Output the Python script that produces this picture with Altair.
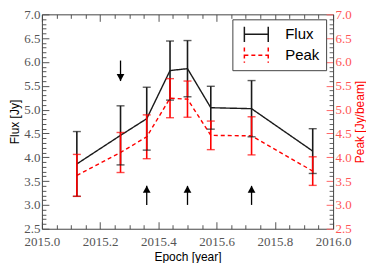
import altair as alt
import pandas as pd

# ---- data ----
epochs = [2015.12, 2015.27, 2015.36, 2015.44, 2015.50, 2015.58, 2015.72, 2015.93]
flux = [3.86, 4.46, 4.81, 5.82, 5.86, 5.04, 5.02, 4.13]
flux_err = [0.68, 0.62, 0.66, 0.62, 0.59, 0.45, 0.59, 0.47]
peak = [3.62, 4.10, 4.43, 5.24, 5.22, 4.46, 4.45, 3.71]
peak_err = [0.44, 0.42, 0.46, 0.41, 0.38, 0.30, 0.40, 0.30]
series_names = ["Flux", "Peak"]

up_arrow_epochs = [2015.36, 2015.50, 2015.72]
up_arrow_from = [3.0, 3.0, 3.0]
up_arrow_to = [3.4, 3.4, 3.4]
down_arrow_epochs = [2015.27]
down_arrow_from = [6.03]
down_arrow_to = [5.60]

x_domain = [2015.0, 2016.0]
y_domain = [2.5, 7.0]
x_ticks = [round(2015.0 + 0.05 * i, 2) for i in range(21)]
y_ticks = [round(2.5 + 0.1 * i, 1) for i in range(46)]

# ---- tables ----
rows = []
for s, vals, errs in [("Flux", flux, flux_err), ("Peak", peak, peak_err)]:
    for e, v, er in zip(epochs, vals, errs):
        rows.append({"epoch": e, "value": v, "lo": v - er, "hi": v + er, "series": s})
df = pd.DataFrame(rows)
up_df = pd.DataFrame({"epoch": up_arrow_epochs, "y0": up_arrow_from, "y1": up_arrow_to})
down_df = pd.DataFrame({"epoch": down_arrow_epochs, "y0": down_arrow_from, "y1": down_arrow_to})
dummy_df = pd.DataFrame({"epoch": [2015.5], "value": [5.0]})

xs = alt.Scale(domain=x_domain, nice=False, zero=False)
ys = alt.Scale(domain=y_domain, nice=False, zero=False)
color_scale = alt.Scale(domain=series_names, range=["#1a1a1a", "#ff0000"])
dash_scale = alt.Scale(domain=series_names, range=[[1, 0], [4, 3]])

LABEL_FONT = "Liberation Serif"
TITLE_FONT = "Liberation Sans"
y_major = "abs(datum.value*2 - round(datum.value*2)) < 0.001"
x_major = "abs(datum.value*5 - round(datum.value*5)) < 0.001"

common = dict(grid=False, labelOverlap=False, labelFlush=False, labelBound=False,
              domainColor="#444444", domainWidth=1, tickWidth=1,
              labelFont=LABEL_FONT, labelFontSize=13, labelColor="#555555",
              titleFont=TITLE_FONT, titleFontSize=12, titleFontWeight="normal")

x_bottom = alt.Axis(values=x_ticks, title="Epoch [year]",
                    labelExpr=f"{x_major} ? format(datum.value, '.1f') : ''",
                    tickSize={"expr": f"{x_major} ? -7 : -4"}, tickColor="#555555",
                    labelPadding=14, titlePadding=0, titleColor="black", **common)
x_top = alt.Axis(values=x_ticks, orient="top", title=None, labels=False,
                 tickSize={"expr": f"{x_major} ? -7 : -4"}, tickColor="#555555", **common)
y_left = alt.Axis(values=y_ticks, title="Flux [Jy]",
                  labelExpr=f"{y_major} ? format(datum.value, '.1f') : ''",
                  tickSize={"expr": f"{y_major} ? -7 : -4"}, tickColor="#555555",
                  labelPadding=9, titlePadding=2, titleColor="black", **common)
right_common = dict(common)
right_common["labelColor"] = "#ff5555"
y_right = alt.Axis(values=y_ticks, orient="right", title="Peak [Jy/beam]",
                   labelExpr=f"{y_major} ? format(datum.value, '.1f') : ''",
                   tickSize={"expr": f"{y_major} ? -7 : -4"},
                   tickColor={"condition": {"test": y_major, "value": "#ff6666"}, "value": "#666666"},
                   labelPadding=9, titlePadding=3, titleColor="#ff0000", titleAngle=270,
                   titleBaseline="top", **right_common)

legend = alt.Legend(title=None, orient="none", legendX=191, legendY=5,
                    symbolType="M-1.33,-0.85V0.85M-1.33,0H1.33M1.33,-0.85V0.85", symbolSize=324,
                    symbolOffset=8, clipHeight=18,
                    symbolStrokeWidth=1.5, labelFont=TITLE_FONT, labelFontSize=15,
                    labelColor="black", strokeColor="#444444", fillColor="white",
                    padding=6, rowPadding=3, labelOffset=19)

base = alt.Chart(df)
X = alt.X("epoch:Q", scale=xs, axis=x_bottom)


def Y(field):
    return alt.Y(field, scale=ys, axis=y_left)


lines = base.mark_line(strokeWidth=1.4).encode(
    x=X,
    y=Y("value:Q"),
    color=alt.Color("series:N", scale=color_scale, legend=legend),
    strokeDash=alt.StrokeDash("series:N", scale=dash_scale, legend=legend),
)
bars = base.mark_rule(strokeWidth=1.6).encode(
    x=X, y=Y("lo:Q"), y2="hi:Q",
    color=alt.Color("series:N", scale=color_scale, legend=None),
)
caps_lo = base.mark_tick(orient="horizontal", size=8, thickness=1.4).encode(
    x=X, y=Y("lo:Q"), color=alt.Color("series:N", scale=color_scale, legend=None))
caps_hi = base.mark_tick(orient="horizontal", size=8, thickness=1.4).encode(
    x=X, y=Y("hi:Q"), color=alt.Color("series:N", scale=color_scale, legend=None))

up_shaft = alt.Chart(up_df).mark_rule(strokeWidth=1.3, color="black").encode(
    x=X, y=Y("y0:Q"), y2="y1:Q")
up_head = alt.Chart(up_df).mark_point(shape="M0,0L-1,1.8L1,1.8Z", size=60, filled=True,
                                      color="black", opacity=1).encode(x=X, y=Y("y1:Q"))
down_shaft = alt.Chart(down_df).mark_rule(strokeWidth=1.3, color="black").encode(
    x=X, y=Y("y0:Q"), y2="y1:Q")
down_head = alt.Chart(down_df).mark_point(shape="M0,0L-1,-1.8L1,-1.8Z", size=60, filled=True,
                                          color="black", opacity=1).encode(x=X, y=Y("y1:Q"))

main = alt.layer(lines, bars, caps_lo, caps_hi, up_shaft, up_head, down_shaft, down_head)

dummy = alt.Chart(dummy_df).mark_point(opacity=0).encode(
    x=alt.X("epoch:Q", scale=xs, axis=x_top),
    y=alt.Y("value:Q", scale=ys, axis=y_right),
)

chart = alt.layer(main, dummy).resolve_scale(x="independent", y="independent").properties(
    width=292, height=215, padding={"left": 0, "top": 0, "right": 0, "bottom": 0}
).configure_view(stroke=None)

chart.save("out.html", embed_options={"renderer": "svg", "actions": False})
